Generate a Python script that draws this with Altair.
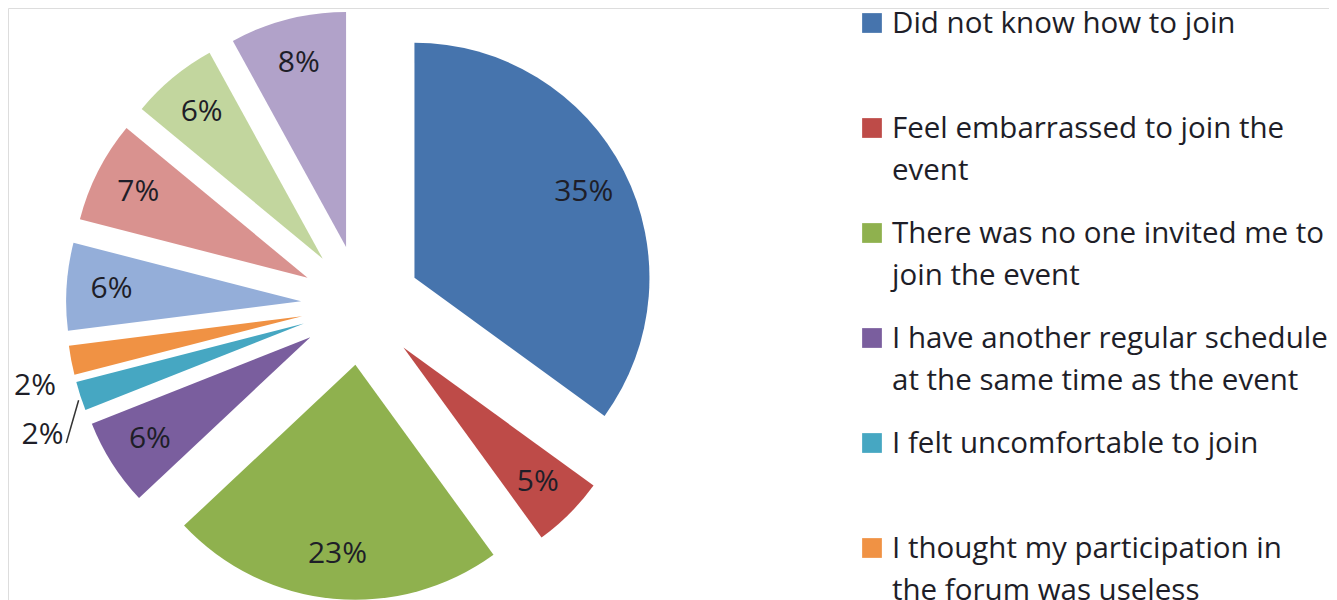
import textwrap
import altair as alt
import pandas as pd

# ---------------- data ----------------
categories = [
    "Did not know how to join",
    "Feel embarrassed to join the event",
    "There was no one invited me to join the event",
    "I have another regular schedule at the same time as the event",
    "I felt uncomfortable to join",
    "I thought my participation in the forum was useless",
    "Reason 7",
    "Reason 8",
    "Reason 9",
    "Reason 10",
]
values = [35, 5, 23, 6, 2, 2, 6, 7, 6, 8]
colors = [
    "#4674AD", "#BE4B48", "#8FB14E", "#7A5E9E", "#46A7C2",
    "#F09244", "#94AED9", "#D9928F", "#C2D69E", "#B1A2C9",
]
legend_shown = categories[:6]   # the legend in the picture is cut after six entries

# ---------------- style ----------------
CX, CY = 353, 297      # pie centre (px)
R = 235                # outer radius
EXPLODE = 60           # explosion distance
LABEL_R = 190          # label radius (inside labels)
FONT = "Open Sans"
TXT = "#1E1E28"
OUTSIDE = {            # category: (label radius, angle shift in degrees)
    "I felt uncomfortable to join": (284, -5.0),
    "I thought my participation in the forum was useless": (276, -3.8),
}

df = pd.DataFrame({"category": categories, "value": values, "order": list(range(len(values)))})

def ternary(default, idx):
    expr = str(default)
    for cat, v in OUTSIDE.items():
        expr = f"(datum.category == '{cat}' ? {v[idx]} : {expr})"
    return expr

base = (
    alt.Chart(df)
    .transform_joinaggregate(total="sum(value)")
    .transform_window(cum="sum(value)", sort=[alt.SortField("order")], frame=[None, 0])
    .transform_calculate(
        t0="(datum.cum - datum.value) / datum.total * 2 * PI",
        t1="datum.cum / datum.total * 2 * PI",
    )
    .transform_calculate(tm="(datum.t0 + datum.t1) / 2")
    .transform_calculate(
        cx=f"{CX} + {EXPLODE} * sin(datum.tm)",
        cy=f"{CY} - {EXPLODE} * cos(datum.tm)",
    )
    .transform_calculate(
        lr=ternary(LABEL_R, 0),
        la=f"datum.tm + ({ternary(0, 1)}) * PI / 180",
    )
    .transform_calculate(
        lx="datum.cx + datum.lr * sin(datum.la)",
        ly="datum.cy - datum.lr * cos(datum.la)",
        label="datum.value + '%'",
    )
)

arcs = base.mark_arc(outerRadius=R, strokeWidth=0).encode(
    x=alt.X("cx:Q", scale=None, axis=None),
    y=alt.Y("cy:Q", scale=None, axis=None),
    theta=alt.Theta("t0:Q", scale=None),
    theta2=alt.Theta2("t1:Q"),
    color=alt.Color("category:N", scale=alt.Scale(domain=categories, range=colors), legend=None),
)

labels = base.mark_text(font=FONT, fontSize=30, color=TXT, baseline="middle", align="center").encode(
    x=alt.X("lx:Q", scale=None, axis=None),
    y=alt.Y("ly:Q", scale=None, axis=None),
    text="label:N",
)

leader = (
    base.transform_filter(alt.datum.category == "I felt uncomfortable to join")
    .transform_calculate(
        a1="datum.tm - 0.8 * PI / 180",
        a2="datum.tm - 8.7 * PI / 180",
    )
    .transform_calculate(
        x1="datum.cx + 238 * sin(datum.a1)",
        y1="datum.cy - 238 * cos(datum.a1)",
        x2="datum.cx + 266 * sin(datum.a2)",
        y2="datum.cy - 266 * cos(datum.a2)",
    )
    .mark_rule(color="#333333", strokeWidth=1.5)
    .encode(
        x=alt.X("x1:Q", scale=None, axis=None),
        y=alt.Y("y1:Q", scale=None, axis=None),
        x2="x2:Q",
        y2="y2:Q",
    )
)

# ---------------- custom legend ----------------
LEG_X, LEG_Y0, LEG_STEP = 864, 15, 105
leg_df = pd.DataFrame({
    "category": legend_shown,
    "text": ["\n".join(textwrap.wrap(c, 31)) for c in legend_shown],
    "i": list(range(len(legend_shown))),
})
leg_base = alt.Chart(leg_df).transform_calculate(
    ly=f"{LEG_Y0} + datum.i * {LEG_STEP}",
    tx=f"{LEG_X + 20}",
    sx=f"{LEG_X}",
).transform_calculate(ty="datum.ly + 10")

leg_sq = leg_base.mark_square(size=390, opacity=1, strokeWidth=0).encode(
    x=alt.X("sx:Q", scale=None, axis=None),
    y=alt.Y("ly:Q", scale=None, axis=None),
    color=alt.Color("category:N", scale=alt.Scale(domain=categories, range=colors), legend=None),
)
leg_txt = leg_base.mark_text(
    font=FONT, fontSize=29.5, color=TXT, align="left", baseline="alphabetic", lineBreak="\n", lineHeight=42
).encode(
    x=alt.X("tx:Q", scale=None, axis=None),
    y=alt.Y("ty:Q", scale=None, axis=None),
    text="text:N",
)

chart = (
    alt.layer(arcs, labels, leader, leg_sq, leg_txt)
    .properties(width=1321, height=592, padding=0, autosize=alt.AutoSizeParams(type="none"))
    .configure_view(strokeWidth=0, stroke="transparent")
    .configure(background="transparent")
)

chart.save("out.html", embed_options={"renderer": "svg", "actions": False})
